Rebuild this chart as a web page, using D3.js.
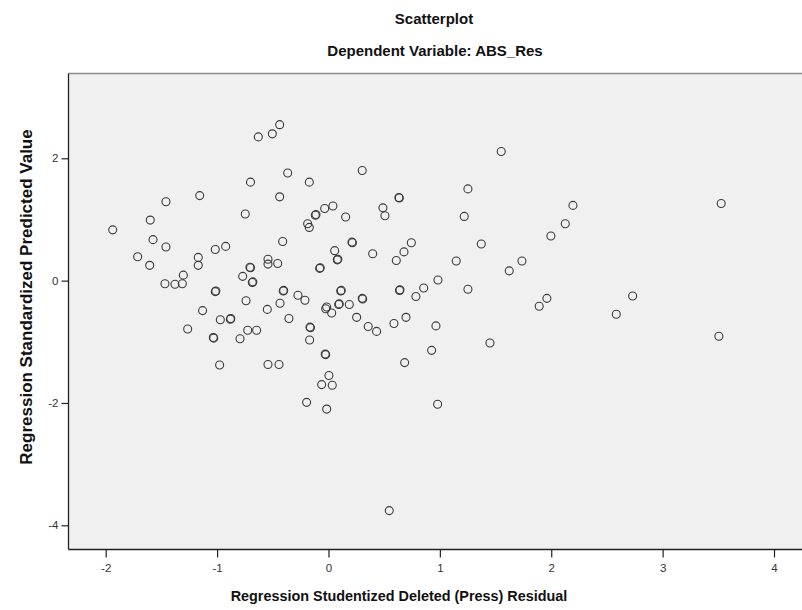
<!DOCTYPE html>
<html>
<head>
<meta charset="utf-8">
<script src="https://cdn.jsdelivr.net/npm/d3@7"></script>
<style>
  body { margin: 0; background: #fff; }
  svg { display: block; font-family: "Liberation Sans", Arial, sans-serif; }
</style>
</head>
<body>
<svg id="chart"></svg>
<script>
// studentized deleted residual (x) and standardized predicted value (y)
const residual = [
  -0.63, -0.70, -1.156, -1.459, -0.747, -1.60, -1.937, -1.575, -1.459, -1.016,
  -0.923, -1.713, -1.605, -1.169, -1.169, -0.705, -0.70, -1.303, -0.77, -0.684,
  -0.679, -1.468, -1.378, -1.312, -1.016, -1.011, -0.74, -1.13,
  -0.438, -0.504, -0.366, 0.303, -0.172, -0.438, 0.636, 0.632, -0.118, -0.112,
  -0.034, 0.04, 0.154, 0.489, 0.507, -0.187, -0.172, -0.411, 0.211, 0.215,
  0.056, 0.079, 0.084, 0.397, 0.609, 0.678, 0.744, -0.543, -0.543, -0.456,
  -0.079, -0.074, 0.983, 0.855, 0.785, 0.642, 0.638, 0.307, 0.303, 0.115,
  0.110, 0.097, 0.092, 0.187, -0.016, -0.406, -0.402, -0.274, -0.211, -0.435,
  -0.549,
  1.551, 1.252, 1.219, 1.372, 1.147, 1.623, 1.737, 1.997, 2.126, 2.195,
  1.252, 1.961, 1.892, 2.731, 2.584, 3.526,
  -0.971, -0.881, -0.877, -1.264, -1.034, -1.030, -0.794, -0.725, -0.645, -0.977,
  -0.355, -0.166, -0.162, -0.169, -0.025, 0.029, 0.253, 0.357, 0.432, 0.588,
  0.696, 0.965, -0.029, -0.025, -0.543, -0.444, 0.684, 0.926, 0.004, -0.061,
  0.034, -0.196, -0.016, 0.98, 0.546, 1.45, 3.505
];
const predicted = [
  2.35, 1.61, 1.39, 1.29, 1.09, 0.99, 0.83, 0.67, 0.55, 0.51,
  0.56, 0.39, 0.25, 0.38, 0.25, 0.22, 0.21, 0.09, 0.07, -0.03,
  -0.02, -0.05, -0.06, -0.05, -0.18, -0.17, -0.33, -0.49,
  2.55, 2.40, 1.76, 1.80, 1.61, 1.37, 1.35, 1.36, 1.07, 1.08,
  1.18, 1.22, 1.04, 1.19, 1.06, 0.93, 0.87, 0.64, 0.63, 0.62,
  0.49, 0.34, 0.35, 0.44, 0.33, 0.47, 0.62, 0.35, 0.27, 0.28,
  0.20, 0.21, 0.01, -0.12, -0.26, -0.15, -0.16, -0.30, -0.29, -0.16,
  -0.17, -0.38, -0.39, -0.39, -0.43, -0.17, -0.16, -0.24, -0.32, -0.37,
  -0.47,
  2.11, 1.50, 1.05, 0.60, 0.32, 0.16, 0.32, 0.73, 0.93, 1.23,
  -0.14, -0.29, -0.42, -0.25, -0.55, 1.26,
  -0.64, -0.63, -0.62, -0.79, -0.93, -0.94, -0.95, -0.81, -0.81, -1.38,
  -0.62, -0.76, -0.77, -0.97, -0.46, -0.53, -0.60, -0.75, -0.83, -0.70,
  -0.60, -0.74, -1.20, -1.21, -1.37, -1.37, -1.34, -1.14, -1.55, -1.70,
  -1.71, -1.99, -2.10, -2.02, -3.76, -1.02, -0.91
];
const xTicks = [-2, -1, 0, 1, 2, 3, 4];
const yTicks = [-4, -2, 0, 2];

const W = 802, H = 610;
const plotLeft = 68.5, plotTop = 73.5, plotBottom = 549.5, plotRight = 803;

const svg = d3.select("#chart").attr("width", W).attr("height", H);

const x = d3.scaleLinear().domain([-2, 4]).range([105.7, 774]);
const y = d3.scaleLinear().domain([-4, 2]).range([525.3, 158.3]);

// plot background
svg.append("rect")
  .attr("x", plotLeft).attr("y", plotTop)
  .attr("width", plotRight - plotLeft).attr("height", plotBottom - plotTop)
  .attr("fill", "#f0f0f0");

svg.append("line")
  .attr("x1", plotLeft).attr("x2", plotRight)
  .attr("y1", plotTop).attr("y2", plotTop)
  .attr("stroke", "#8a8a8a").attr("stroke-width", 1.5);

// axes (plain hyphen for negatives, like SPSS)
const xAxis = svg.append("g")
  .attr("transform", `translate(0,${plotBottom})`)
  .call(d3.axisBottom(x).tickValues(xTicks).tickSize(8).tickPadding(6).tickFormat(d=>String(d)));
const yAxis = svg.append("g")
  .attr("transform", `translate(${plotLeft},0)`)
  .call(d3.axisLeft(y).tickValues(yTicks).tickSize(7).tickPadding(3).tickFormat(d=>String(d)));

[xAxis, yAxis].forEach(g=>{
  g.select(".domain").remove();
  g.selectAll("line").attr("stroke", "#222").attr("stroke-width", 1.2);
  g.selectAll("text").attr("fill", "#333").style("font-size", "11.5px")
    .style("font-family", "'Liberation Sans', Arial, sans-serif");
});

svg.append("line")
  .attr("x1", plotLeft).attr("x2", plotLeft)
  .attr("y1", plotTop).attr("y2", plotBottom)
  .attr("stroke", "#222").attr("stroke-width", 1.3);
svg.append("line")
  .attr("x1", plotLeft).attr("x2", plotRight)
  .attr("y1", plotBottom).attr("y2", plotBottom)
  .attr("stroke", "#222").attr("stroke-width", 1.3);

// points
svg.append("g")
  .selectAll("circle")
  .data(residual.map((r, i)=>({r: r, p: predicted[i]})))
  .enter()
  .append("circle")
  .attr("cx", d=>x(d.r))
  .attr("cy", d=>y(d.p))
  .attr("r", 4)
  .attr("fill", "none")
  .attr("stroke", "#3a3a3a")
  .attr("stroke-width", 1.1);

// titles
svg.append("text")
  .attr("x", 434).attr("y", 24)
  .attr("text-anchor", "middle")
  .style("font-size", "15px").style("font-weight", "bold")
  .attr("fill", "#111")
  .text("Scatterplot");
svg.append("text")
  .attr("x", 435).attr("y", 56)
  .attr("text-anchor", "middle")
  .style("font-size", "15px").style("font-weight", "bold")
  .attr("fill", "#111")
  .text("Dependent Variable: ABS_Res");

svg.append("text")
  .attr("x", 399).attr("y", 601)
  .attr("text-anchor", "middle")
  .style("font-size", "14.4px").style("font-weight", "bold")
  .attr("fill", "#111")
  .text("Regression Studentized Deleted (Press) Residual");

svg.append("text")
  .attr("transform", "translate(32,297) rotate(-90)")
  .attr("text-anchor", "middle")
  .style("font-size", "17px").style("font-weight", "bold")
  .attr("fill", "#111")
  .text("Regression Standardized Predicted Value");
</script>
</body>
</html>
